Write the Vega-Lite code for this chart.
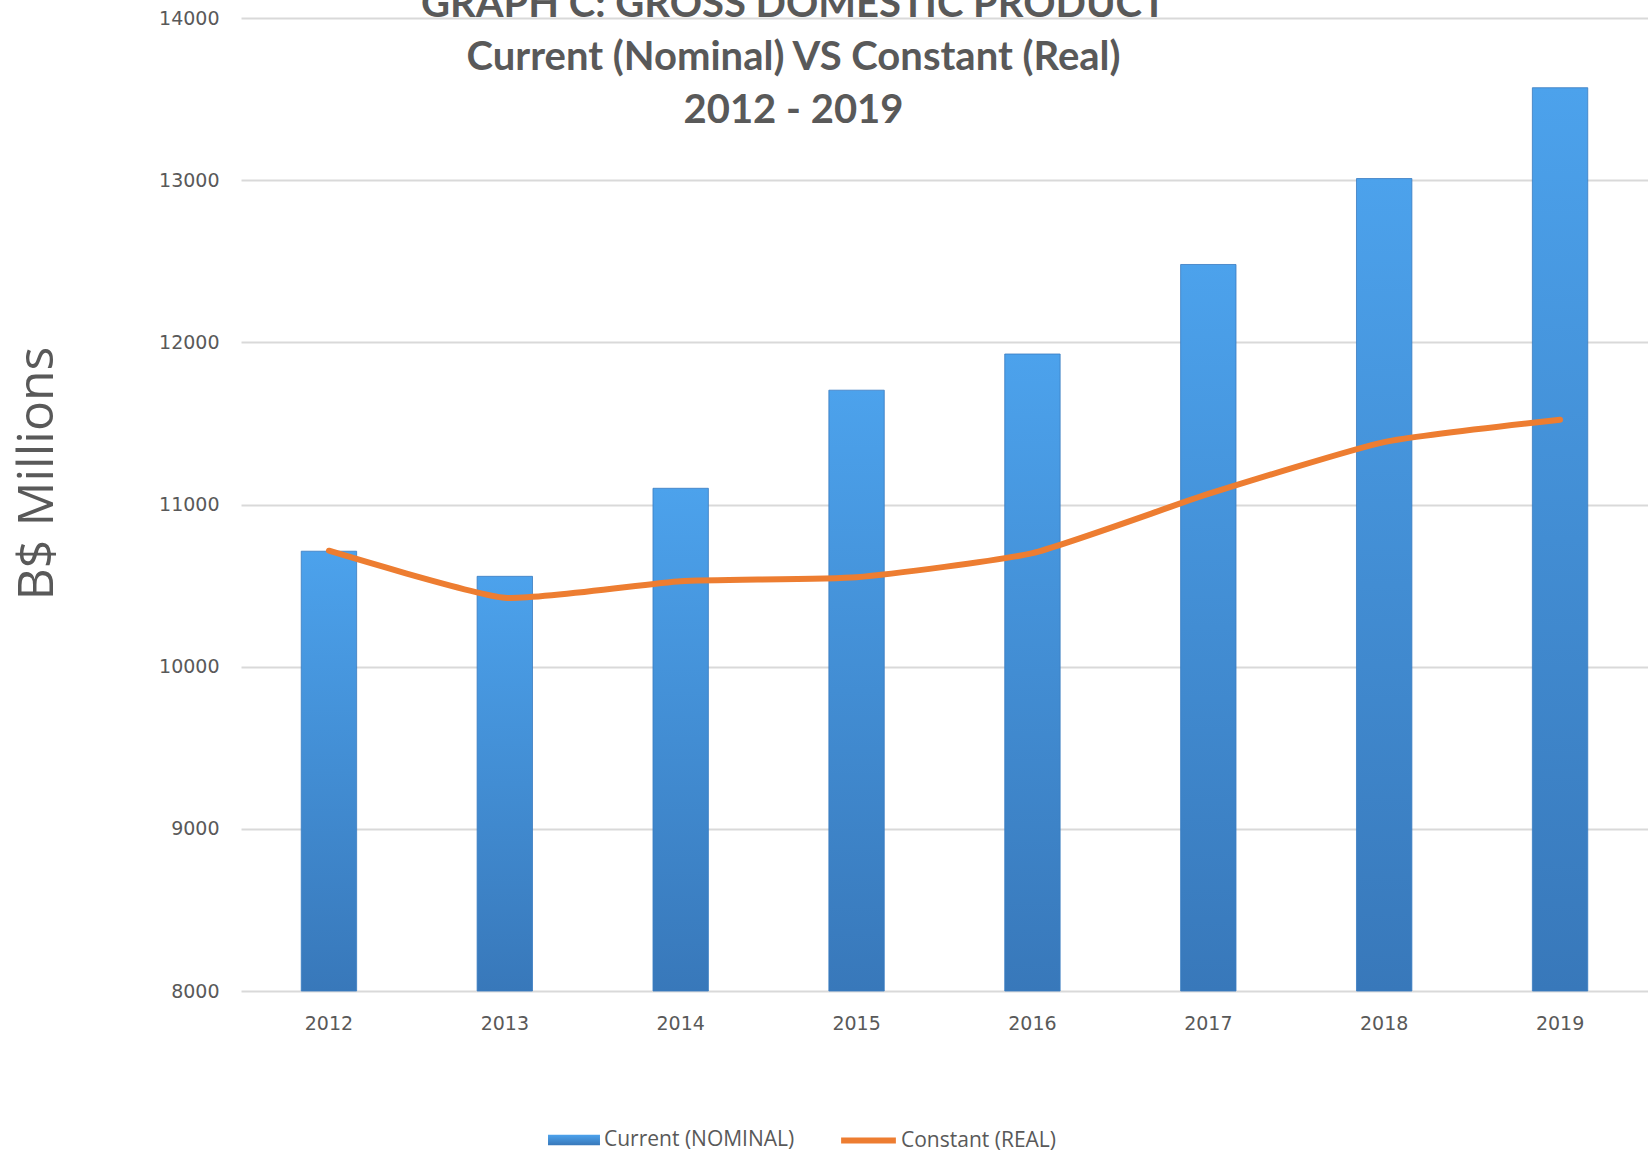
{
  "$schema": "https://vega.github.io/schema/vega-lite/v6.json",
  "width": 1407,
  "height": 973,
  "autosize": {"type": "none"},
  "padding": {"left": 241, "top": 18, "right": 0, "bottom": 168},
  "background": "white",
  "config": {"view": {"stroke": null}, "font": "Open Sans"},
  "title": {
    "text": ["GRAPH C: GROSS DOMESTIC PRODUCT", "Current (Nominal) VS Constant (Real)", "2012 - 2019"],
    "anchor": "middle",
    "frame": "group",
    "dx": -151,
    "font": "Lato",
    "fontSize": 40,
    "fontWeight": "bold",
    "color": "#595959",
    "lineHeight": 53,
    "baseline": "middle",
    "offset": 0,
    "dy": 142
  },
  "data": {
    "values": [
      {"year": "2012", "series": "Current (NOMINAL)", "value": 10712},
      {"year": "2013", "series": "Current (NOMINAL)", "value": 10557},
      {"year": "2014", "series": "Current (NOMINAL)", "value": 11100},
      {"year": "2015", "series": "Current (NOMINAL)", "value": 11705},
      {"year": "2016", "series": "Current (NOMINAL)", "value": 11928},
      {"year": "2017", "series": "Current (NOMINAL)", "value": 12480},
      {"year": "2018", "series": "Current (NOMINAL)", "value": 13010},
      {"year": "2019", "series": "Current (NOMINAL)", "value": 13570},
      {"year": "2012", "series": "Constant (REAL)", "value": 10715},
      {"year": "2013", "series": "Constant (REAL)", "value": 10425},
      {"year": "2014", "series": "Constant (REAL)", "value": 10527},
      {"year": "2015", "series": "Constant (REAL)", "value": 10552},
      {"year": "2016", "series": "Constant (REAL)", "value": 10700},
      {"year": "2017", "series": "Constant (REAL)", "value": 11065},
      {"year": "2018", "series": "Constant (REAL)", "value": 11385},
      {"year": "2019", "series": "Constant (REAL)", "value": 11523}
    ]
  },
  "encoding": {
    "x": {
      "field": "year",
      "type": "ordinal",
      "scale": {"paddingInner": 0, "paddingOuter": 0},
      "axis": {
        "title": null,
        "labelAngle": 0,
        "labelFont": "DejaVu Sans",
        "labelFontSize": 19,
        "labelColor": "#595959",
        "labelPadding": 23,
        "ticks": false,
        "domain": false
      }
    },
    "y": {
      "field": "value",
      "type": "quantitative",
      "scale": {"domain": [8000, 14000], "zero": false, "nice": false},
      "axis": {
        "values": [8000, 9000, 10000, 11000, 12000, 13000, 14000],
        "format": "d",
        "grid": true,
        "gridColor": "#d9d9d9",
        "gridWidth": 2,
        "domain": false,
        "ticks": false,
        "labelFont": "DejaVu Sans",
        "labelFontSize": 19,
        "labelColor": "#595959",
        "labelPadding": 22,
        "title": "B$ Millions",
        "titleFont": "Open Sans",
        "titleFontSize": 50,
        "titleFontWeight": "normal",
        "titleColor": "#595959",
        "titlePadding": 96,
        "titleY": 455
      }
    }
  },
  "layer": [
    {
      "transform": [{"filter": "datum.series === 'Current (NOMINAL)'"}],
      "mark": {"type": "bar", "width": {"band": 0.315}, "stroke": "#3a7cc0", "strokeWidth": 1, "strokeOpacity": 0.8},
      "encoding": {
        "y2": {"datum": 8000},
        "fill": {
          "field": "series",
          "type": "nominal",
          "scale": {
            "range": [
              {"expr": "{gradient: 'linear', x1: 0, y1: 0, x2: 0, y2: 1, stops: [{offset: 0, color: '#4ca2ec'}, {offset: 1, color: '#3878ba'}]}"}
            ]
          },
          "legend": {
            "orient": "none",
            "legendX": 307,
            "legendY": 1096,
            "title": null,
            "padding": 0,
            "symbolType": "M-1,-0.2H1V0.2H-1Z",
            "symbolSize": 2700,
            "symbolStrokeWidth": 0,
            "labelFont": "Open Sans",
            "labelFontSize": 21,
            "labelColor": "#595959",
            "labelOffset": 4,
            "labelLimit": 400
          }
        }
      }
    },
    {
      "transform": [{"filter": "datum.series === 'Constant (REAL)'"}],
      "mark": {"type": "line", "strokeWidth": 6, "interpolate": "cardinal", "tension": 0.5, "strokeCap": "round"},
      "encoding": {
        "stroke": {
          "field": "series",
          "type": "nominal",
          "scale": {"range": ["#ed7d31"]},
          "legend": {
            "orient": "none",
            "legendX": 597,
            "legendY": 1092,
            "title": null,
            "padding": 0,
            "symbolType": "stroke",
            "symbolSize": 3000,
            "symbolStrokeWidth": 6,
            "labelFont": "Open Sans",
            "labelFontSize": 21,
            "labelColor": "#595959",
            "labelOffset": 2,
            "labelLimit": 400
          }
        }
      }
    }
  ]
}
